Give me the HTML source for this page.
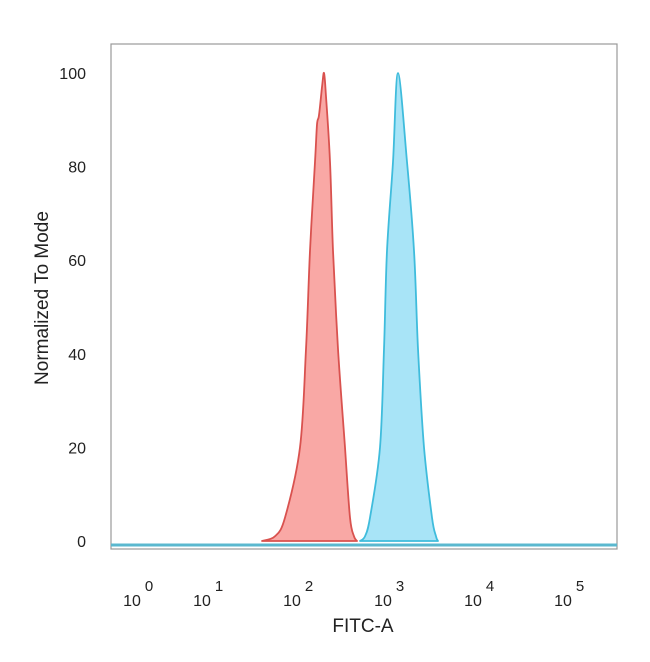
<!DOCTYPE html>
<html><head><meta charset="utf-8"><style>
body{margin:0;background:#fff;width:650px;height:657px;overflow:hidden;font-family:"Liberation Sans",Arial,sans-serif}
</style></head><body>
<svg id="c" width="650" height="657" xmlns="http://www.w3.org/2000/svg"></svg>
<script>
const yTicks=[0,20,40,60,80,100];
const xTickExps=[0,1,2,3,4,5];
const xTickPos=[139,209,299,390,480,570];
const redX=[1.593,1.736,1.846,2.011,2.077,2.121,2.176,2.198,2.22,2.253,2.275,2.297,2.341,2.374,2.429,2.505,2.56,2.604,2.637];
const redY=[0,1,5,20,41,62,81,89,91,97,100,95,81,62,41,20,5,1,0];
const blueX=[2.670,2.725,2.780,2.890,2.934,2.967,3.033,3.088,3.187,3.264,3.308,3.374,3.462,3.505,3.527];
const blueY=[0,1,5,20,41,62,81,100,81,62,41,20,5,1,0];
const NS="http://www.w3.org/2000/svg";
const svg=document.getElementById('c');
function el(t,a,p){const e=document.createElementNS(NS,t);for(const k in a)e.setAttribute(k,a[k]);(p||svg).appendChild(e);return e;}
const L=111,R=617,T=44,B=549;
function ys(v){return 541-v*4.68;}
function xs(d){return 299+(d-2)*91;}
const frame=el('rect',{x:L,y:T,width:R-L,height:B-T,fill:'none',stroke:'#999','stroke-width':1.2});


function area(xa,ya,fill,stroke,name){
  const pts=xa.map((x,i)=>[xs(x),ys(ya[i])]);
  let d='M'+pts[0][0].toFixed(1)+','+pts[0][1].toFixed(1);
  for(let i=0;i<pts.length-1;i++){
    const p0=pts[Math.max(i-1,0)],p1=pts[i],p2=pts[i+1],p3=pts[Math.min(i+2,pts.length-1)];
    const c1=[p1[0]+(p2[0]-p0[0])/6,p1[1]+(p2[1]-p0[1])/6];
    const c2=[p2[0]-(p3[0]-p1[0])/6,p2[1]-(p3[1]-p1[1])/6];
    d+=' C'+c1[0].toFixed(1)+','+c1[1].toFixed(1)+' '+c2[0].toFixed(1)+','+c2[1].toFixed(1)+' '+p2[0].toFixed(1)+','+p2[1].toFixed(1);
  }
  d+='Z';
  const p=el('path',{d:d,fill:fill,stroke:stroke,'stroke-width':1.8,'stroke-linejoin':'round'});
  
  
}
area(redX,redY,'#f9a8a5','#d9524f','red-histogram');
area(blueX,blueY,'#a8e4f7','#3fbcdc','blue-histogram');
const base=el('line',{x1:L,x2:R,y1:545,y2:545,stroke:'#5bb8cf','stroke-width':3});


yTicks.forEach(v=>{
  const t=el('text',{x:86,y:ys(v)+6,'text-anchor':'end','font-size':16,fill:'#222'});
  t.textContent=v;
  
  
});
xTickExps.forEach((e,i)=>{
  const t=el('text',{x:xTickPos[i]-7,y:606,'text-anchor':'middle','font-size':16,fill:'#222'});
  t.textContent='10';
  
  
  const s=el('text',{x:xTickPos[i]+10,y:591,'text-anchor':'middle','font-size':15,fill:'#222'});
  s.textContent=e;
  
  
});
const xt=el('text',{x:363,y:632,'text-anchor':'middle','font-size':19,fill:'#222'});
xt.textContent='FITC-A';


const yt=el('text',{x:0,y:0,'text-anchor':'middle','font-size':19,fill:'#222',transform:'translate(48,298) rotate(-90)'});
yt.textContent='Normalized To Mode';


</script>
</body></html>
